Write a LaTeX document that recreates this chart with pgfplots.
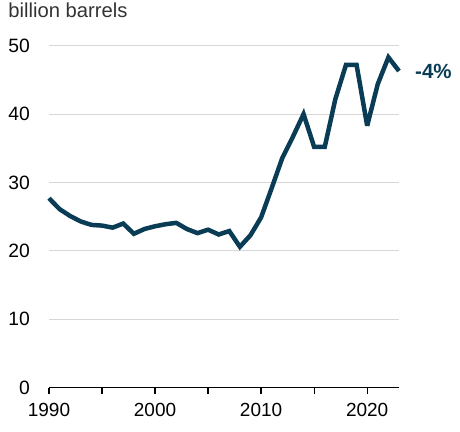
\documentclass[border=0pt]{standalone}
\usepackage{pgfplots}
\pgfplotsset{compat=1.18}
\usepackage{fontspec}
\setmainfont{Liberation Sans}
\definecolor{navy}{HTML}{0A3C55}
\definecolor{gridgray}{HTML}{D6D6D6}
\definecolor{titlegray}{HTML}{333333}
\begin{document}
\fontsize{19bp}{22bp}\selectfont
\begin{tikzpicture}
\path[use as bounding box] (-49bp,-44.3bp) rectangle (411bp,387.7bp);
\begin{axis}[
  at={(0,0)}, anchor=south west,
  scale only axis,
  width=350bp, height=342bp,
  xmin=1990, xmax=2023,
  ymin=0, ymax=50,
  clip=false,
  axis x line=bottom,
  axis y line=left,
  x axis line style={-, black, line width=1.3bp},
  y axis line style={draw=none},
  xtick={1990,1995,...,2020},
  xticklabels={1990,,2000,,2010,,2020},
  ytick={0,10,...,50},
  ymajorgrids=true,
  grid style={gridgray, line width=1bp},
  xtick align=outside,
  ytick align=inside,
  major tick length=6.5bp,
  xtick style={black, line width=1.3bp},
  ytick style={draw=none},
  /pgf/number format/assume math mode=true,
  /pgf/number format/1000 sep={},
  xticklabel style={inner sep=0pt, anchor=north, yshift=-9bp, font=\fontsize{19bp}{22bp}\selectfont, text=black},
  yticklabel style={inner sep=0pt, anchor=east, xshift=-19bp, font=\fontsize{19.3bp}{22bp}\selectfont, text=black},
]
\addplot[navy, line width=4.5bp, line join=miter, miter limit=3, line cap=butt] coordinates {
(1990,27.7) (1991,26.1) (1992,25.1) (1993,24.3) (1994,23.8) (1995,23.7)
(1996,23.4) (1997,24.0) (1998,22.5) (1999,23.2) (2000,23.6) (2001,23.9)
(2002,24.1) (2003,23.2) (2004,22.6) (2005,23.1) (2006,22.4) (2007,22.9)
(2008,20.6) (2009,22.3) (2010,24.9) (2011,29.2) (2012,33.6) (2013,36.7)
(2014,40.0) (2015,35.2) (2016,35.2) (2017,42.2) (2018,47.2) (2019,47.2)
(2020,38.3) (2021,44.4) (2022,48.3) (2023,46.3)
};
\node[anchor=west, inner sep=0pt, xshift=16bp, text=navy, font=\fontsize{20.5bp}{24bp}\selectfont\bfseries] at (axis cs:2023,46.3) {-4\%};
\end{axis}
\node[anchor=north west, inner sep=0pt, text=titlegray, font=\fontsize{20.2bp}{24bp}\selectfont] at (-40.7bp,384.7bp) {billion barrels};
\end{tikzpicture}
\end{document}
